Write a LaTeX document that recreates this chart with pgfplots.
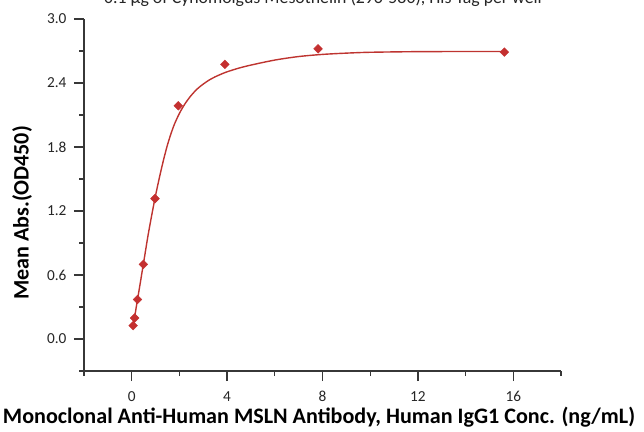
\documentclass[border=0pt]{standalone}
\usepackage{fontspec}
\setmainfont{Carlito}
\usepackage{pgfplots}
\pgfplotsset{compat=1.18}
\definecolor{axisgray}{RGB}{55,55,55}
\definecolor{curvered}{RGB}{190,52,48}
\definecolor{markred}{RGB}{196,48,48}
\begin{document}
\begin{tikzpicture}
\begin{axis}[
  at={(84pt,60pt)}, anchor=south west,
  scale only axis, width=477pt, height=352pt,
  xmin=-2, xmax=18, ymin=-0.3, ymax=3.0,
  axis x line*=bottom, axis y line*=left,
  xtick={0,4,8,12,16}, minor xtick={-2,2,6,10,14,18},
  ytick={0,0.6,1.2,1.8,2.4,3.0}, minor ytick={-0.3,0.3,0.9,1.5,2.1,2.7},
  tick align=outside,
  major tick length=10pt, minor tick length=5pt,
  axis line style={line width=1.3pt, color=axisgray},
  every tick/.style={line width=1.3pt, color=axisgray},
  /pgf/number format/assume math mode=true,
  ticklabel style={font=\fontsize{15.3}{18}\selectfont, text=black!85},
  yticklabel style={xshift=-4pt, /pgf/number format/.cd, fixed, fixed zerofill, precision=1},
  xticklabel style={yshift=-7pt},
  clip=false,
]
\addplot[curvered, line width=1.4pt, smooth, tension=0.5] coordinates {
(0.061,0.125) (0.122,0.205) (0.244,0.37) (0.488,0.70) (0.70,0.99)
(0.977,1.32) (1.25,1.60) (1.50,1.82) (1.75,1.99) (2.00,2.115)
(2.25,2.21) (2.50,2.285) (2.75,2.345) (3.00,2.39) (3.25,2.428)
(3.50,2.458) (3.75,2.483) (4.00,2.505) (4.50,2.54) (5.00,2.568)
(6.00,2.615) (7.00,2.648) (8.00,2.668) (9.00,2.68) (10.0,2.688)
(12.0,2.694) (14.0,2.695) (15.625,2.695)
};
\addplot[only marks, mark=square*, mark size=3.1pt, mark options={rotate=45, fill=markred, draw=markred}] coordinates {
(0.061,0.125) (0.122,0.197) (0.244,0.37) (0.488,0.70) (0.977,1.316)
(1.953,2.186) (3.906,2.575) (7.8125,2.72) (15.625,2.69)
};
\end{axis}
\node[anchor=base, font=\fontsize{17.8}{21}\selectfont, text=black!85] at (323pt,427.5pt) {0.1 μg of Cynomolgus Mesothelin (296-580), His Tag per well};
\node[anchor=base, font=\fontsize{22.1}{26}\selectfont\bfseries] at (319pt,7.5pt) {Monoclonal Anti-Human MSLN Antibody, Human IgG1 Conc. (ng/mL)};
\node[anchor=base, rotate=90, font=\fontsize{22.1}{26}\selectfont\bfseries] at (28.5pt,218pt) {Mean Abs.(OD450)};
\pgfresetboundingbox
\useasboundingbox (0,0) rectangle (644pt,431pt);
\end{tikzpicture}
\end{document}
